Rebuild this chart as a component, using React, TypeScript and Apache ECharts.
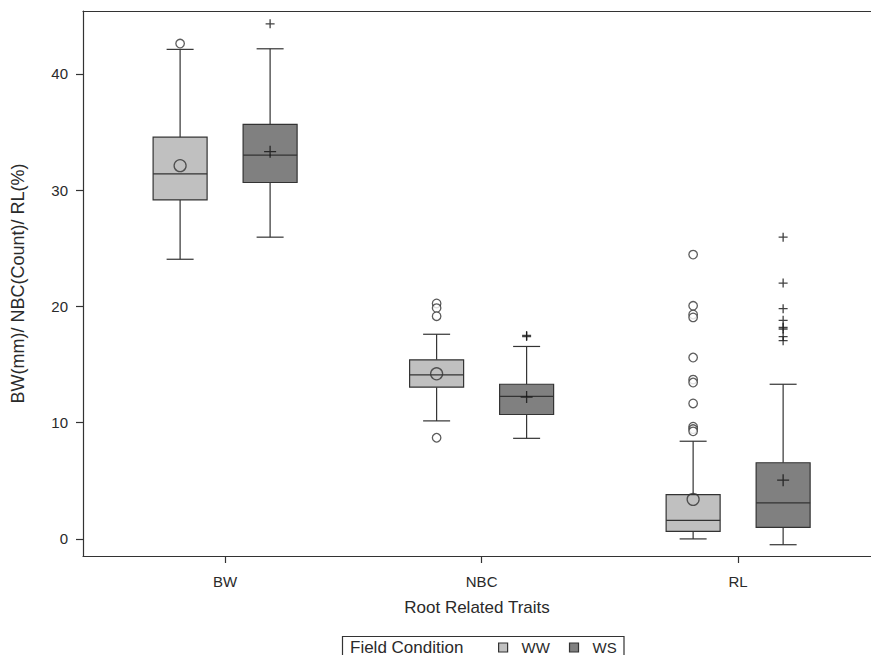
import React, { useEffect, useRef } from "react";
import * as echarts from "echarts";

const categories = ["BW", "NBC", "RL"];
const yTicks = [0, 10, 20, 30, 40];

// [low whisker, Q1, median, Q3, high whisker, mean]
const wwStats = [
  [24.05, 29.15, 31.4, 34.55, 42.1, 32.1],
  [10.15, 13.05, 14.1, 15.4, 17.6, 14.2],
  [0.0, 0.65, 1.6, 3.8, 8.4, 3.4],
];
const wsStats = [
  [25.95, 30.65, 33.0, 35.65, 42.15, 33.3],
  [8.65, 10.7, 12.25, 13.3, 16.55, 12.2],
  [-0.5, 1.0, 3.1, 6.55, 13.3, 5.05],
];

const wwOutliers = [
  [42.6],
  [20.25, 19.85, 19.15, 8.7],
  [24.45, 20.05, 19.3, 19.05, 15.6, 13.7, 13.45, 11.65, 9.65, 9.45, 9.25],
];
const wsOutliers = [
  [44.3],
  [17.4, 17.5],
  [25.95, 22.0, 19.8, 18.8, 18.2, 18.05, 17.4, 17.05],
];

const FONT = "'Liberation Sans', Arial, sans-serif";
const LINE = "#333333";
const TEXT = "#2a2a2a";
const WW_FILL = "#c0c0c0";
const WS_FILL = "#808080";
const PLUS = "path://M5 0 L5 10 M0 5 L10 5";

function boxRenderer(offset: number, fill: string) {
  return (params: any, api: any) => {
    const cat = api.value(0);
    const p = (v: number) => api.coord([cat, v]);
    const cx = p(api.value(3))[0] + offset;
    const yLow = p(api.value(1))[1];
    const yQ1 = p(api.value(2))[1];
    const yMed = p(api.value(3))[1];
    const yQ3 = p(api.value(4))[1];
    const yHigh = p(api.value(5))[1];
    const bw = 54;
    const cw = 27;
    const ls = { stroke: LINE, lineWidth: 1.2 };
    return {
      type: "group",
      children: [
        { type: "line", shape: { x1: cx, y1: yQ1, x2: cx, y2: yLow }, style: ls },
        { type: "line", shape: { x1: cx - cw / 2, y1: yLow, x2: cx + cw / 2, y2: yLow }, style: ls },
        { type: "line", shape: { x1: cx, y1: yQ3, x2: cx, y2: yHigh }, style: ls },
        { type: "line", shape: { x1: cx - cw / 2, y1: yHigh, x2: cx + cw / 2, y2: yHigh }, style: ls },
        {
          type: "rect",
          shape: { x: cx - bw / 2, y: yQ3, width: bw, height: yQ1 - yQ3 },
          style: { fill, stroke: LINE, lineWidth: 1.2 },
        },
        { type: "line", shape: { x1: cx - bw / 2, y1: yMed, x2: cx + bw / 2, y2: yMed }, style: ls },
      ],
    };
  };
}

function flatten(out: number[][]) {
  const res: number[][] = [];
  out.forEach((arr, i) => arr.forEach((v) => res.push([i + 1, v])));
  return res;
}

export default function App() {
  const ref = useRef<HTMLDivElement>(null);
  useEffect(() => {
    if (!ref.current) return;
    const chart = echarts.init(ref.current, undefined, { renderer: "svg" });
    const wwBoxes = wwStats.map((s, i) => [i + 1, s[0], s[1], s[2], s[3], s[4]]);
    const wsBoxes = wsStats.map((s, i) => [i + 1, s[0], s[1], s[2], s[3], s[4]]);
    const wwMeans = wwStats.map((s, i) => [i + 1, s[5]]);
    const wsMeans = wsStats.map((s, i) => [i + 1, s[5]]);
    const axisLine = { show: true, onZero: false, lineStyle: { color: LINE, width: 1.2 } };
    chart.setOption({
      animation: false,
      backgroundColor: "#ffffff",
      textStyle: { fontFamily: FONT },
      grid: { left: 83, right: 0, top: 11, bottom: 99 },
      xAxis: [
        {
          type: "value",
          min: 0.446,
          max: 3.518,
          name: "Root Related Traits",
          nameLocation: "middle",
          nameGap: 43,
          nameTextStyle: { fontFamily: FONT, fontSize: 17, color: TEXT },
          axisLine,
          splitLine: { show: false },
          axisTick: { show: true, length: 7, customValues: [1, 2, 3], lineStyle: { color: LINE, width: 1.2 } },
          axisLabel: {
            customValues: [1, 2, 3],
            margin: 18,
            fontFamily: FONT,
            fontSize: 15,
            color: TEXT,
            formatter: (v: number) => categories[Math.round(v) - 1] ?? "",
          },
        },
        {
          type: "value",
          position: "top",
          min: 0.446,
          max: 3.518,
          axisLine,
          axisTick: { show: false },
          axisLabel: { show: false },
          splitLine: { show: false },
        },
      ],
      yAxis: {
        type: "value",
        min: -1.47,
        max: 45.4,
        name: "BW(mm)/ NBC(Count)/ RL(%)",
        nameLocation: "middle",
        nameGap: 56,
        nameTextStyle: { fontFamily: FONT, fontSize: 18, color: TEXT },
        axisLine,
        splitLine: { show: false },
        axisTick: { show: true, length: 7, customValues: yTicks, lineStyle: { color: LINE, width: 1.2 } },
        axisLabel: {
          customValues: yTicks,
          margin: 15,
          fontFamily: FONT,
          fontSize: 15,
          color: TEXT,
        },
      },
      legend: {
        show: true,
        left: 498,
        top: 640,
        padding: 0,
        itemWidth: 9,
        itemHeight: 9,
        itemGap: 19,
        selectedMode: false,
        textStyle: { fontFamily: FONT, fontSize: 15, lineHeight: 14, color: TEXT, padding: [0, 0, 0, 9] },
        data: [
          { name: "WW", icon: "rect", itemStyle: { color: WW_FILL, borderColor: LINE, borderWidth: 1.2 } },
          { name: "WS", icon: "rect", itemStyle: { color: WS_FILL, borderColor: LINE, borderWidth: 1.2 } },
        ],
      },
      graphic: [
        {
          type: "rect",
          shape: { x: 342.5, y: 636.5, width: 281.5, height: 30 },
          style: { fill: "none", stroke: LINE, lineWidth: 1.2 },
          silent: true,
        },
        {
          type: "text",
          x: 350,
          y: 647,
          style: {
            text: "Field Condition",
            font: `17px ${FONT}`,
            fill: TEXT,
            verticalAlign: "middle",
          },
        },
      ],
      series: [
        {
          name: "WW",
          type: "custom",
          itemStyle: { color: WW_FILL },
          renderItem: boxRenderer(-45, WW_FILL),
          encode: { x: 0, y: [1, 2, 3, 4, 5] },
          data: wwBoxes,
          z: 2,
        },
        {
          name: "WS",
          type: "custom",
          itemStyle: { color: WS_FILL },
          renderItem: boxRenderer(45, WS_FILL),
          encode: { x: 0, y: [1, 2, 3, 4, 5] },
          data: wsBoxes,
          z: 2,
        },
        {
          name: "WW",
          type: "scatter",
          symbol: "circle",
          symbolSize: 12,
          symbolOffset: [-45, 0],
          itemStyle: { color: "rgba(0,0,0,0)", borderColor: LINE, borderWidth: 1.3 },
          data: wwMeans,
          z: 3,
        },
        {
          name: "WS",
          type: "scatter",
          symbol: PLUS,
          symbolSize: 12,
          symbolOffset: [45, 0],
          itemStyle: { color: "rgba(0,0,0,0)", borderColor: "#111", borderWidth: 1.3 },
          data: wsMeans,
          z: 3,
        },
        {
          name: "WW",
          type: "scatter",
          symbol: "circle",
          symbolSize: 8.5,
          symbolOffset: [-45, 0],
          itemStyle: { color: "#ffffff", borderColor: LINE, borderWidth: 1.3 },
          data: flatten(wwOutliers),
          z: 3,
        },
        {
          name: "WS",
          type: "scatter",
          symbol: PLUS,
          symbolSize: 9,
          symbolOffset: [45, 0],
          itemStyle: { color: "rgba(0,0,0,0)", borderColor: "#111", borderWidth: 1.3 },
          data: flatten(wsOutliers),
          z: 3,
        },
      ],
    });
    return () => chart.dispose();
  }, []);
  return (
    <div
      ref={ref}
      style={{ position: "fixed", left: 0, top: 0, width: 871, height: 655, background: "#fff" }}
    />
  );
}
